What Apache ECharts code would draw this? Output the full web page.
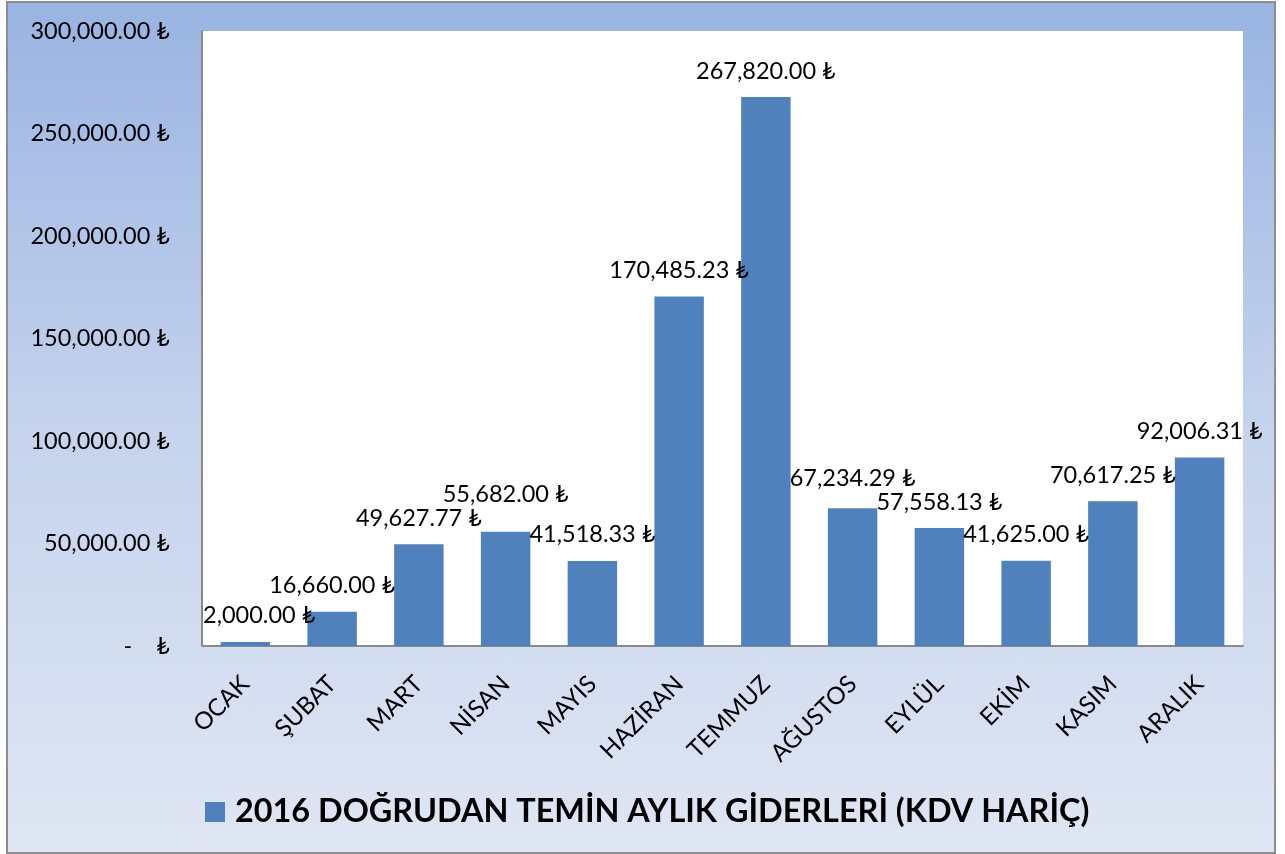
<!DOCTYPE html>
<html>
<head>
<meta charset="utf-8">
<script src="https://cdn.jsdelivr.net/npm/echarts@6/dist/echarts.min.js"></script>
<style>
html,body{margin:0;padding:0;background:#fff;}
#frame{position:absolute;left:6px;top:1px;width:1266px;height:849px;border:2px solid #8e8e8e;background:linear-gradient(to bottom,#99b4e2 0%,#c5d3ed 50%,#dfe6f3 100%);}
#chart{position:absolute;left:0;top:0;width:1285px;height:854px;}
</style>
</head>
<body>
<div id="frame"></div>
<div id="chart"></div>
<script>
const categories = ['OCAK','ŞUBAT','MART','NİSAN','MAYIS','HAZİRAN','TEMMUZ','AĞUSTOS','EYLÜL','EKİM','KASIM','ARALIK'];
const values = [2000.00, 16660.00, 49627.77, 55682.00, 41518.33, 170485.23, 267820.00, 67234.29, 57558.13, 41625.00, 70617.25, 92006.31];
const seriesName = '2016 DOĞRUDAN TEMİN AYLIK GİDERLERİ (KDV HARİÇ)';
const yTicks = [0, 50000, 100000, 150000, 200000, 250000, 300000];

function fmt(v){
  if (v === 0) return '-    ₺';
  return v.toLocaleString('en-US',{minimumFractionDigits:2,maximumFractionDigits:2}) + ' ₺';
}
const FONT = 'Lato, "Noto Sans", sans-serif';
const GRID_LEFT = 202;
const rects = [];
let shifts = [];

function labelLayout(params) {
  const r = params.labelRect;
  const dx = r.x < GRID_LEFT + 1 ? GRID_LEFT + 1 - r.x : 0;
  rects[params.dataIndex] = {x: r.x + dx, y: r.y, w: r.width, h: r.height};
  return {dx: dx, dy: shifts[params.dataIndex] || 0};
}

function buildOption() {
  return {
    backgroundColor: 'transparent',
    animation: false,
    grid: {left: GRID_LEFT, right: 42, top: 31, bottom: 208, containLabel: false, show: true, backgroundColor: '#ffffff', borderWidth: 0},
    legend: {
      data: [seriesName],
      left: 200, top: 791,
      itemWidth: 20, itemHeight: 20,
      icon: 'rect',
      textStyle: {fontFamily: FONT, fontWeight: 'bold', fontSize: 32.4, color: '#000', padding: [0, 0, 0, 5]}
    },
    xAxis: {
      type: 'category',
      data: categories,
      axisLine: {lineStyle: {color: '#8a8a8a', width: 2}},
      axisTick: {show: false},
      axisLabel: {rotate: 45, fontFamily: FONT, fontSize: 24, color: '#000', margin: 34, interval: 0}
    },
    yAxis: {
      type: 'value',
      min: yTicks[0], max: yTicks[yTicks.length-1], interval: 50000,
      axisLine: {show: true, lineStyle: {color: '#8a8a8a', width: 2}},
      axisTick: {show: false},
      splitLine: {show: false},
      axisLabel: {fontFamily: FONT, fontSize: 23.5, color: '#000', margin: 32, formatter: fmt}
    },
    series: [{
      name: seriesName,
      type: 'bar',
      data: values,
      barWidth: '57%',
      itemStyle: {color: '#4f81bd'},
      label: {show: true, position: 'top', distance: 14, fontFamily: FONT, fontSize: 23.5, color: '#000', formatter: p => fmt(p.value)},
      labelLayout: labelLayout
    }]
  };
}

const dom = document.getElementById('chart');
let chart = echarts.init(dom);
chart.setOption(buildOption());

// resolve overlapping neighbouring data labels: push the higher label upward
const base = rects.map(r => r ? {...r} : null);
shifts = base.map(() => 0);
for (let iter = 0; iter < 10; iter++) {
  let changed = false;
  for (let i = 0; i < base.length - 1; i++) {
    const a = base[i], b = base[i + 1];
    if (!a || !b) continue;
    const ay = a.y + shifts[i], by = b.y + shifts[i + 1];
    const xOver = a.x < b.x + b.w && b.x < a.x + a.w;
    const yOver = ay < by + b.h && by < ay + a.h;
    if (xOver && yOver) {
      if (ay <= by) shifts[i] -= (ay + a.h) - by;
      else shifts[i + 1] -= (by + b.h) - ay;
      changed = true;
    }
  }
  if (!changed) break;
}
chart.dispose();
chart = echarts.init(dom);
chart.setOption(buildOption());
</script>
</body>
</html>
